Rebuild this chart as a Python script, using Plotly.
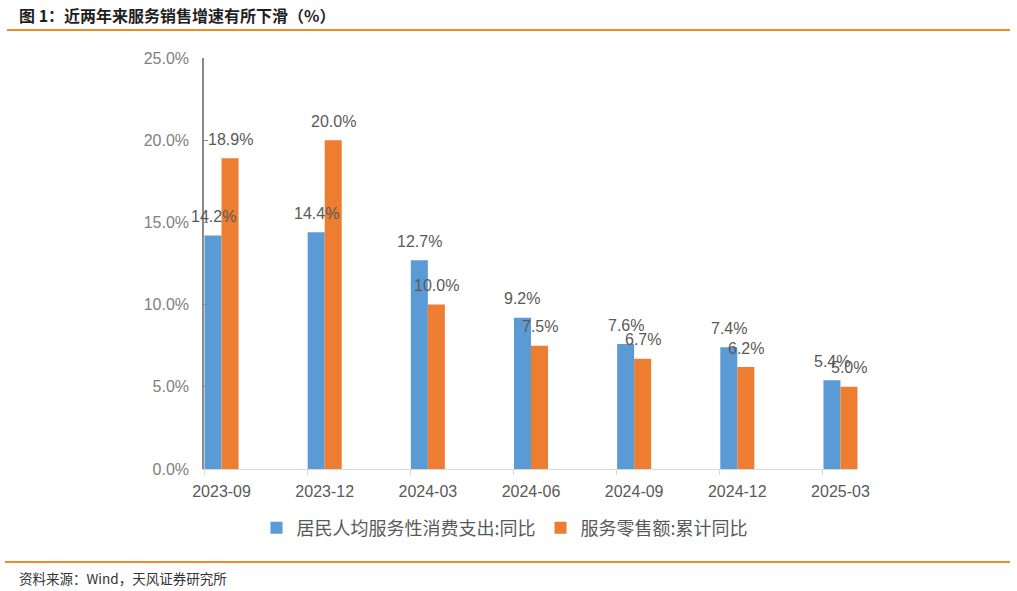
import plotly.graph_objects as go

categories = ["2023-09", "2023-12", "2024-03", "2024-06", "2024-09", "2024-12", "2025-03"]
per_capita_service = [14.2, 14.4, 12.7, 9.2, 7.6, 7.4, 5.4]
service_retail = [18.9, 20.0, 10.0, 7.5, 6.7, 6.2, 5.0]
series_names = ["居民人均服务性消费支出:同比", "服务零售额:累计同比"]
y_ticks = [0, 5, 10, 15, 20, 25]
y_ticklabels = ["0.0%", "5.0%", "10.0%", "15.0%", "20.0%", "25.0%"]

title_text = "图 1：近两年来服务销售增速有所下滑（%）"
source_text = "资料来源：Wind，天风证券研究所"

BLUE = "#5b9bd5"
ORANGE = "#ed7d31"
FONT = "Liberation Sans, Noto Sans CJK SC, sans-serif"
CJK = "Noto Sans CJK SC, sans-serif"

W, H = 1017, 591
L, R, T, B = 204, 159, 58, 122

bargap = 0.67
bar_w = (1 - bargap) / 2
xs = list(range(len(categories)))
x_lo, x_hi = -0.17, len(categories) - 1 + 0.17

fig = go.Figure()
fig.add_trace(go.Bar(x=xs, y=per_capita_service, name=series_names[0],
                     marker=dict(color=BLUE, line=dict(width=0))))
fig.add_trace(go.Bar(x=xs, y=service_retail, name=series_names[1],
                     marker=dict(color=ORANGE, line=dict(width=0))))

# invisible trace on overlay axis for tick marks
fig.add_trace(go.Scatter(x=[x_lo, x_hi], y=[0, 0], xaxis="x2", mode="none",
                         showlegend=False, hoverinfo="skip"))

annotations = []
for i, (a, b) in enumerate(zip(per_capita_service, service_retail)):
    annotations.append(dict(x=i - bar_w / 2, y=a, xref="x", yref="y",
                            text=f"{a:.1f}%", showarrow=False, yanchor="middle",
                            yshift=19, font=dict(family=FONT, size=16, color="#595959")))
    annotations.append(dict(x=i + bar_w / 2, y=b, xref="x", yref="y",
                            text=f"{b:.1f}%", showarrow=False, yanchor="middle",
                            yshift=19, font=dict(family=FONT, size=16, color="#595959")))

pw = W - L - R
ph = H - T - B


def px_x(px):
    return (px - L) / pw


def px_y(py):
    return 1 - (py - T) / ph


annotations.append(dict(x=px_x(17), y=px_y(15), xref="paper", yref="paper",
                        xanchor="left", yanchor="middle", text="<b>" + title_text + "</b>",
                        showarrow=False, font=dict(family=CJK, size=16, color="#1f1f1f")))
annotations.append(dict(x=px_x(17), y=px_y(578), xref="paper", yref="paper",
                        xanchor="left", yanchor="middle", text=source_text,
                        showarrow=False, font=dict(family=CJK, size=13.5, color="#333333")))

shapes = [
    dict(type="line", xref="paper", yref="paper",
         x0=px_x(7), x1=px_x(1010), y0=px_y(30), y1=px_y(30),
         line=dict(color="#f0892a", width=2)),
    dict(type="line", xref="paper", yref="paper",
         x0=px_x(5), x1=px_x(1010), y0=px_y(562), y1=px_y(562),
         line=dict(color="#f0892a", width=2)),
]

fig.update_layout(
    width=W, height=H,
    margin=dict(l=L, r=R, t=T, b=B, pad=0, autoexpand=False),
    paper_bgcolor="white", plot_bgcolor="white",
    barmode="group", bargap=bargap, bargroupgap=0,
    showlegend=True,
    legend=dict(orientation="h", xref="container", yref="container",
                x=505 / W, xanchor="center", y=1 - 528 / H, yanchor="middle",
                font=dict(family=CJK, size=18, color="#595959"),
                itemwidth=30, tracegroupgap=0, bgcolor="rgba(0,0,0,0)"),
    xaxis=dict(range=[x_lo, x_hi], tickvals=xs, ticktext=categories,
               ticks="", showgrid=False, zeroline=False,
               showline=True, linecolor="#d9d9d9", linewidth=1,
               tickfont=dict(family=FONT, size=16, color="#595959"),
               ticklabelstandoff=8, automargin=False),
    xaxis2=dict(range=[x_lo, x_hi], overlaying="x", side="bottom",
                tickvals=[i - 0.17 for i in xs], showticklabels=False,
                ticks="outside", ticklen=5, tickcolor="#d9d9d9", tickwidth=1,
                showgrid=False, zeroline=False, showline=False, automargin=False),
    yaxis=dict(range=[0, 25], tickvals=y_ticks, ticktext=y_ticklabels,
               ticks="inside", ticklen=4, tickcolor="#898989", tickwidth=1,
               showgrid=False, zeroline=False,
               showline=True, linecolor="#898989", linewidth=1.5,
               tickfont=dict(family=FONT, size=16, color="#808080"),
               ticklabelstandoff=10, automargin=False),
    annotations=annotations,
    shapes=shapes,
)

fig.write_html("out.html")
